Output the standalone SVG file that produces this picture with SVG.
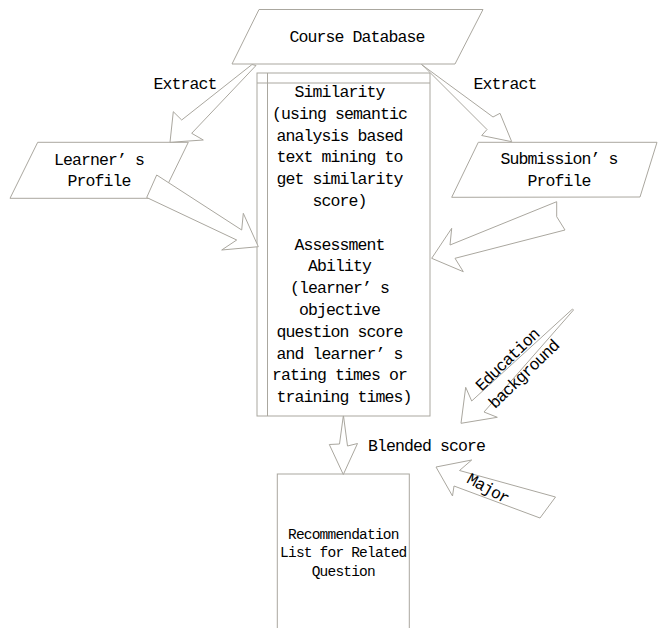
<svg xmlns="http://www.w3.org/2000/svg" width="658" height="628" viewBox="0 0 658 628">
<style>
.s{fill:#fff;stroke:#aaa79f;stroke-width:1}
.l{fill:none;stroke:#aaa79f;stroke-width:1}
.t{font-family:"Liberation Mono","DejaVu Sans Mono",monospace;font-size:16.5px;letter-spacing:-0.9px;fill:#000}
.c{text-anchor:middle}
.r{font-size:14.5px;letter-spacing:-0.8px}
</style>
<rect width="658" height="628" fill="#fff"/>
<g id="course-db">
<polygon class="s" points="259,9.5 483,9.5 455,64 232,64"/>
<text class="t c" x="357" y="42">Course Database</text>
</g>
<g id="similarity-box">
<rect class="s" x="257" y="73" width="173" height="343"/>
<line class="l" x1="257" y1="83" x2="430" y2="83"/>
<line class="l" x1="267.5" y1="73" x2="267.5" y2="416"/>
<text class="t c">
<tspan x="344" y="97">Similarity</tspan>
<tspan x="344" y="118.8">(using semantic</tspan>
<tspan x="344" y="140.6">analysis based</tspan>
<tspan x="344" y="162.4">text mining to</tspan>
<tspan x="344" y="184.2">get similarity</tspan>
<tspan x="344" y="206">score)</tspan>
<tspan x="344" y="249.6">Assessment</tspan>
<tspan x="344" y="271.4">Ability</tspan>
<tspan x="344" y="293.2">(learner’<tspan dx="9">s</tspan></tspan>
<tspan x="344" y="315">objective</tspan>
<tspan x="344" y="336.8">question score</tspan>
<tspan x="344" y="358.6">and learner’<tspan dx="9">s</tspan></tspan>
<tspan x="344" y="380.4">rating times or</tspan>
<tspan x="344" y="402.2">training times)</tspan>
</text>
</g>
<g id="learner-profile">
<polygon class="s" points="37.7,142.3 188.3,142.3 161,198.3 10,198.3"/>
<text class="t c"><tspan x="99" y="165">Learner’<tspan dx="9">s</tspan></tspan><tspan x="99" y="186">Profile</tspan></text>
</g>
<g id="submission-profile">
<polygon class="s" points="478.3,142.3 657,142.3 640,197 451.7,197.3"/>
<text class="t c"><tspan x="559" y="164.3">Submission’<tspan dx="9">s</tspan></tspan><tspan x="559" y="186">Profile</tspan></text>
</g>
<g id="recommendation-list">
<rect class="s" x="277.3" y="474" width="132" height="200"/>
<text class="t c r"><tspan x="343.3" y="538.5">Recommendation</tspan><tspan x="343.3" y="557">List for Related</tspan><tspan x="343.3" y="575.5">Question</tspan></text>
</g>
<g id="connectors">
<polygon class="s" points="252,64.5 181.7,120 173.3,111.7 170,142.3 203.3,140 191.7,133.3 256,65.5"/>
<polygon class="s" points="421.5,64.5 493,117 500,113.3 511.7,141.7 481.7,135.5 487,129.5 423.5,66"/>
<polygon class="s" points="156.7,175 241.7,230 243.3,213.3 258.3,246.7 221.7,250 236.7,240 146.7,197.5"/>
<polygon class="s" points="556.7,201.7 450,245 451.7,228.3 431.7,258.3 463.3,271.7 455,258.3 565,230 556.7,216.7"/>
<polygon class="s" points="572.5,309 471.7,401 465.7,387.3 461,423.3 497.3,417.3 484,412 573.5,310"/>
<polygon class="s" points="436,467 471.7,460 459.5,470.5 555.5,497 540,518 454,486 452.5,496"/>
<polygon class="s" points="343.3,416 339.5,444 329.3,444.5 343.3,474.5 357.5,443.5 347.5,446 343.5,416"/>
<text class="t c" x="185" y="89">Extract</text>
<text class="t c" x="505" y="88.5">Extract</text>
<text class="t c" x="426.5" y="450.7">Blended score</text>
<text class="t c" transform="translate(511,363.5) rotate(-44)">Education</text>
<text class="t c" transform="translate(527.5,378) rotate(-44)">background</text>
<text class="t c" transform="translate(485.5,493) rotate(29)">Major</text>
</g>
</svg>
